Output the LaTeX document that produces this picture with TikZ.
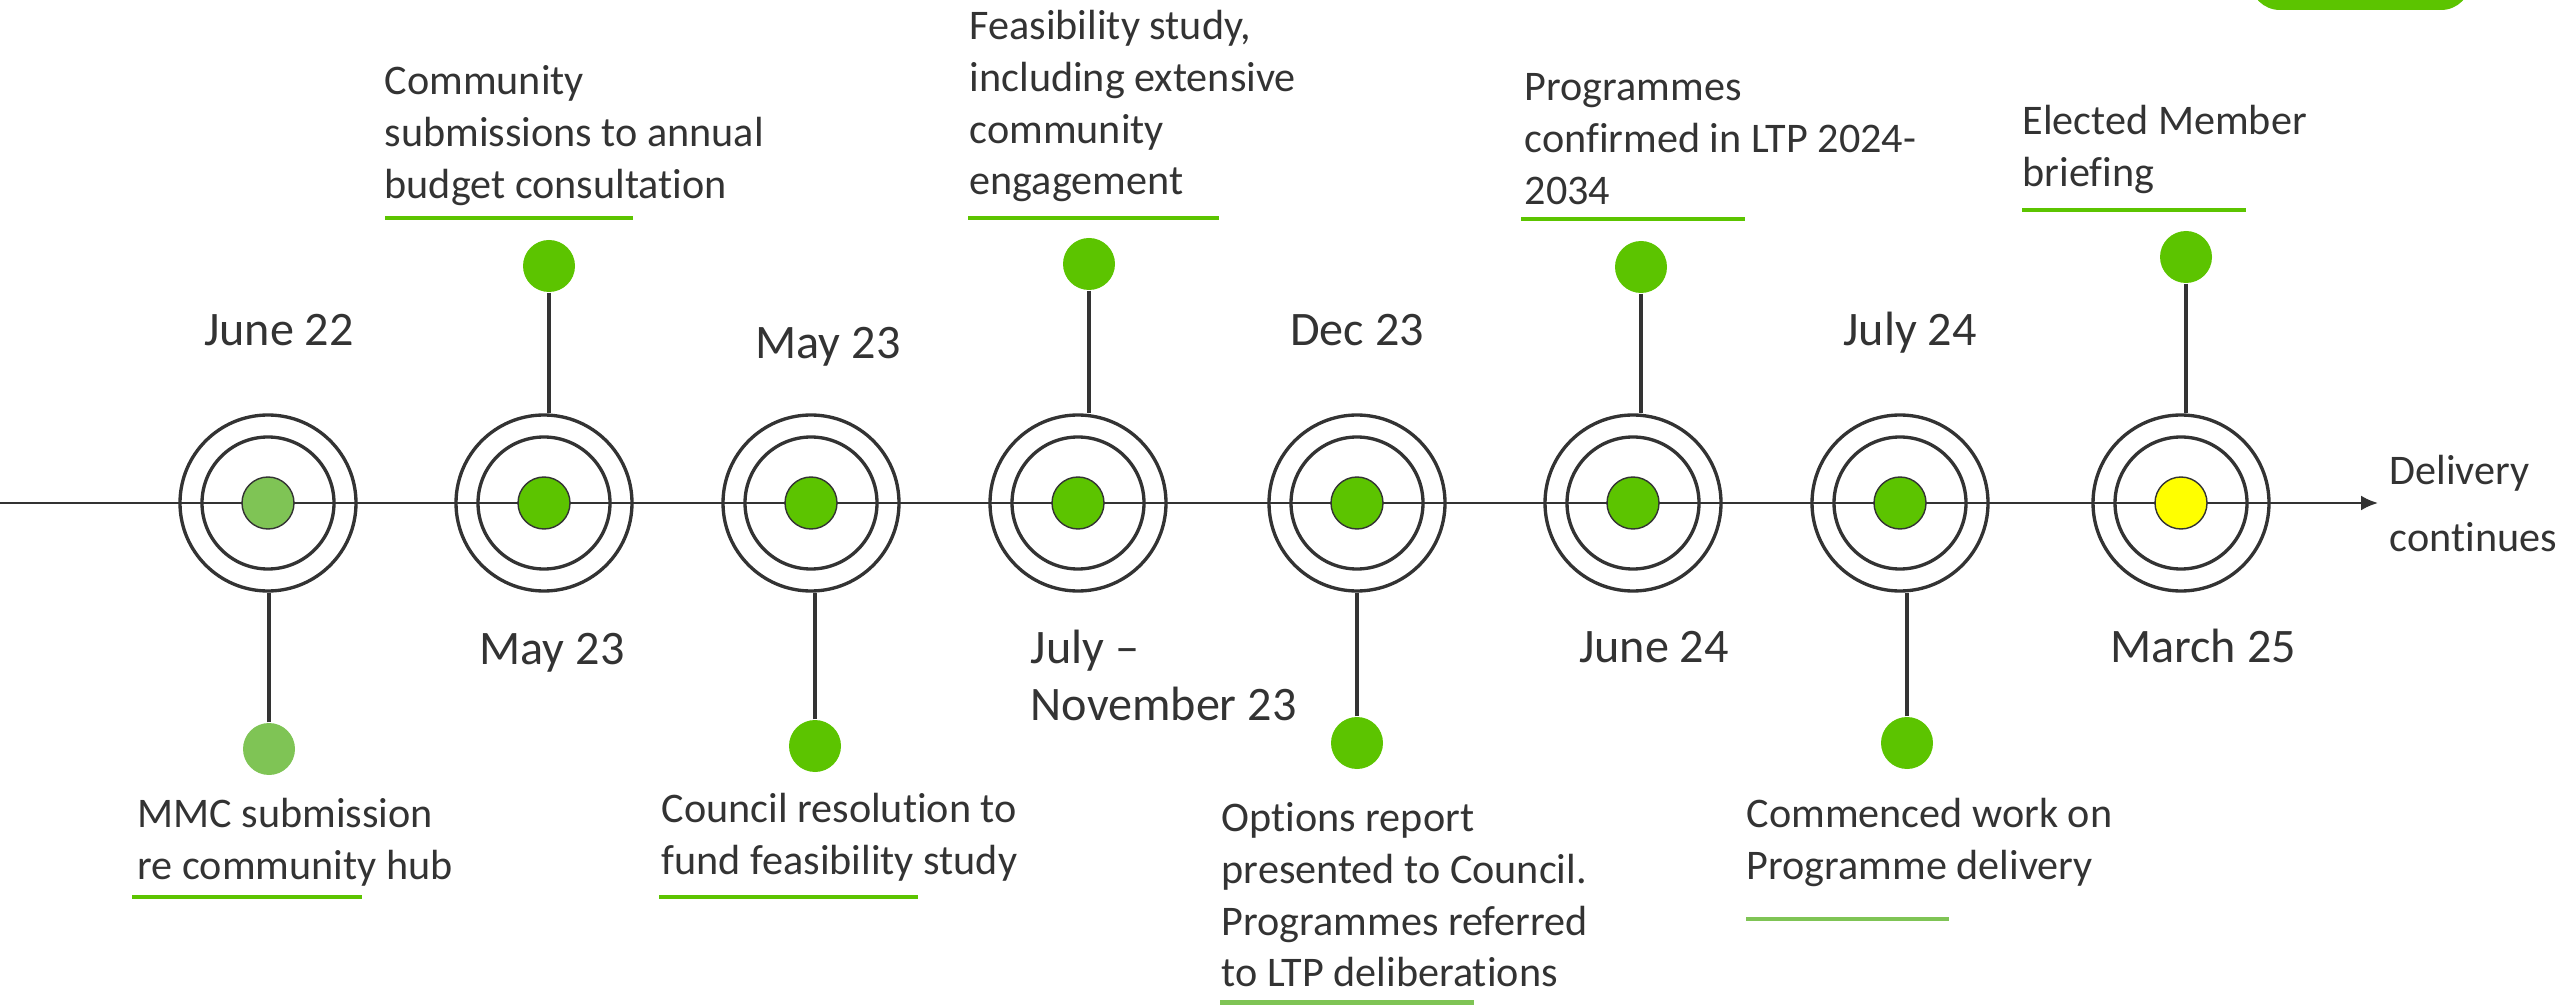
\documentclass[tikz,border=0pt]{standalone}
\usepackage{fontspec}
\setmainfont{Carlito}[Ligatures=NoCommon]
\usetikzlibrary{arrows.meta}
\definecolor{dark}{HTML}{333333}
\definecolor{leaf}{HTML}{5CC400}
\definecolor{paleleaf}{HTML}{7FC455}
\definecolor{sun}{HTML}{FFFF00}
\begin{document}
\begin{tikzpicture}[
  ring/.style={draw=dark,circle,line width=0.95pt,minimum size=1.76cm,inner sep=0},
  inring/.style={ring,minimum size=1.32cm},
  core/.style={draw=dark,circle,line width=0.4pt,minimum size=0.52cm,inner sep=0,fill=leaf},
  evt/.style={circle,minimum size=0.52cm,inner sep=0,fill=leaf},
  stem/.style={draw=dark,line width=0.9pt},
  datelbl/.style={font=\fontsize{13.7}{16.2}\selectfont,text=dark,inner sep=0},
  desc/.style={font=\fontsize{12}{14.7}\selectfont,text=dark,align=left,anchor=north west,inner sep=0},
  uline/.style={draw=leaf,line width=1.3pt}]
\useasboundingbox (0,0) rectangle (25.6,10.04);
\clip (0,0) rectangle (25.6,10.04);
% tab at the top
\fill[leaf,rounded corners=0.3cm] (22.50,9.94) rectangle (24.71,10.6);
% time line
\coordinate (tl0) at (0,5.01);
\coordinate (tl1) at (23.78,5.01);
\draw[dark,line width=0.7pt,-{Latex[length=0.17cm,width=0.15cm]}] (tl0)--(tl1);
% milestones
\node[ring] (r1) at (2.68,5.01){};
\node[ring] (r2) at (5.44,5.01){};
\node[ring] (r3) at (8.11,5.01){};
\node[ring] (r4) at (10.78,5.01){};
\node[ring] (r5) at (13.57,5.01){};
\node[ring] (r6) at (16.33,5.01){};
\node[ring] (r7) at (19.00,5.01){};
\node[ring] (r8) at (21.81,5.01){};
\node[inring] (i1) at (r1){};
\node[inring] (i2) at (r2){};
\node[inring] (i3) at (r3){};
\node[inring] (i4) at (r4){};
\node[inring] (i5) at (r5){};
\node[inring] (i6) at (r6){};
\node[inring] (i7) at (r7){};
\node[inring] (i8) at (r8){};
\node[core,fill=paleleaf] (c1) at (r1){};
\node[core] (c2) at (r2){};
\node[core] (c3) at (r3){};
\node[core] (c4) at (r4){};
\node[core] (c5) at (r5){};
\node[core] (c6) at (r6){};
\node[core] (c7) at (r7){};
\node[core,fill=sun] (c8) at (r8){};
% event dots
\node[evt,fill=paleleaf] (e1) at (2.69,2.55){};
\node[evt] (e2) at (5.49,7.38){};
\node[evt] (e3) at (8.15,2.58){};
\node[evt] (e4) at (10.89,7.40){};
\node[evt] (e5) at (13.57,2.61){};
\node[evt] (e6) at (16.41,7.37){};
\node[evt] (e7) at (19.07,2.61){};
\node[evt] (e8) at (21.86,7.47){};
\draw[stem] (e1)--(e1 |- r1.south);
\draw[stem] (e2)--(e2 |- r2.north);
\draw[stem] (e3)--(e3 |- r3.south);
\draw[stem] (e4)--(e4 |- r4.north);
\draw[stem] (e5)--(e5 |- r5.south);
\draw[stem] (e6)--(e6 |- r6.north);
\draw[stem] (e7)--(e7 |- r7.south);
\draw[stem] (e8)--(e8 |- r8.north);
% dates
\node[datelbl,anchor=base] (d1) at (2.79,6.58){June 22};
\node[datelbl,anchor=base] (d2) at (5.52,3.39){May 23};
\node[datelbl,anchor=base] (d3) at (8.28,6.45){May 23};
\node[datelbl,anchor=north west,align=left] (d4) at (10.30,3.75){July –\\November 23};
\node[datelbl,anchor=base] (d5) at (13.57,6.58){Dec 23};
\node[datelbl,anchor=base] (d6) at (16.54,3.41){June 24};
\node[datelbl,anchor=base] (d7) at (19.10,6.58){July 24};
\node[datelbl,anchor=base] (d8) at (22.03,3.41){March 25};
% descriptions
\node[desc] (t1) at (1.37,2.06){MMC submission\\re community hub};
\node[desc] (t2) at (3.84,9.39){Community\\submissions to annual\\budget consultation};
\node[desc] (t3) at (6.61,2.11){Council resolution to\\fund feasibility study};
\node[desc] (t4) at (9.69,9.94){Feasibility study,\\including extensive\\community\\engagement};
\node[desc] (t5) at (12.21,2.02){Options report\\presented to Council.\\Programmes referred\\to LTP deliberations};
\node[desc] (t6) at (15.24,9.31){Programmes\\confirmed in LTP 2024-\\2034};
\node[desc] (t7) at (17.46,2.06){Commenced work on\\Programme delivery};
\node[desc] (t8) at (20.22,8.99){Elected Member\\briefing};
\node[desc,font=\fontsize{12}{19}\selectfont] (dc) at (23.89,5.49){Delivery\\continues};
% underlines
\draw[uline] (1.32,1.07)--(3.62,1.07);
\draw[uline] (3.85,7.86)--(6.33,7.86);
\draw[uline] (6.59,1.07)--(9.18,1.07);
\draw[uline] (9.68,7.86)--(12.19,7.86);
\draw[uline,draw=paleleaf] (12.20,0.015)--(14.74,0.015);
\draw[uline] (15.21,7.85)--(17.45,7.85);
\draw[uline,draw=paleleaf] (17.46,0.85)--(19.49,0.85);
\draw[uline] (20.22,7.94)--(22.46,7.94);
\end{tikzpicture}
\end{document}
